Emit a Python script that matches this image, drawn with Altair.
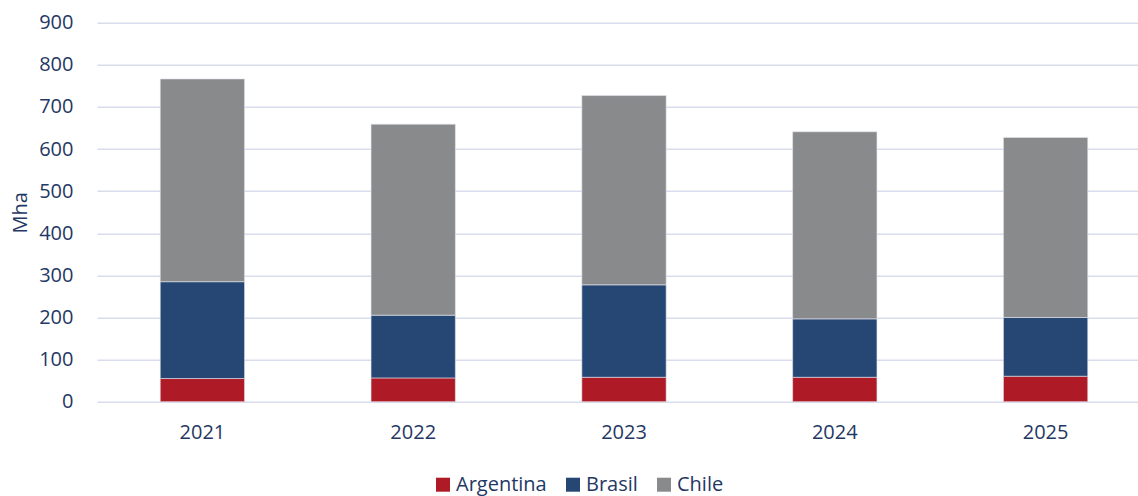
import altair as alt
import pandas as pd

years = ["2021", "2022", "2023", "2024", "2025"]
countries = ["Argentina", "Brasil", "Chile"]
argentina = [55, 56.5, 58, 58, 60.5]
brasil = [230, 149, 219.5, 138.7, 139.5]
chile = [481.4, 453.5, 449.5, 444.3, 427.5]
colors = ["#AE1A25", "#264674", "#898A8C"]

rows = []
for series, vals in zip(countries, [argentina, brasil, chile]):
    for y, v in zip(years, vals):
        rows.append({"Año": y, "País": series, "Mha": v, "ord": countries.index(series)})
df = pd.DataFrame(rows)

FONT = "Open Sans"
TXT = "#1F3864"
FS = 20

chart = alt.Chart(df).mark_bar(stroke="#e6e6ee", strokeWidth=0.6).encode(
    x=alt.X("Año:N", title=None,
            scale=alt.Scale(range=[0, 1054], paddingInner=0.6, paddingOuter=0.3),
            axis=alt.Axis(labelAngle=0, domain=False, ticks=False, labelPadding=21,
                          labelFontSize=FS, labelColor=TXT, labelFont=FONT)),
    y=alt.Y("Mha:Q", title="Mha", stack="zero",
            scale=alt.Scale(domain=[0, 900], nice=False),
            axis=alt.Axis(values=list(range(0, 901, 100)), domain=False, ticks=False,
                          labelPadding=24, labelFontSize=FS, labelColor=TXT, labelFont=FONT,
                          titleFontSize=FS, titleColor=TXT, titleFont=FONT,
                          titleFontWeight="normal", titlePadding=8,
                          gridColor="#D9DCEC", gridWidth=1.5)),
    color=alt.Color("País:N", scale=alt.Scale(domain=countries, range=colors),
                    legend=alt.Legend(title=None, orient="none", direction="horizontal",
                                      legendX=336, legendY=452,
                                      symbolType="square", symbolSize=196,
                                      symbolStrokeWidth=0, labelFontSize=FS,
                                      labelColor=TXT, labelFont=FONT,
                                      columnPadding=16, labelOffset=3)),
    order=alt.Order("ord:Q"),
).properties(
    width=1041, height=379,
    autosize=alt.AutoSizeParams(type="none"),
    padding={"left": 97, "top": 22.7, "right": 0, "bottom": 94.3},
).configure_view(stroke=None)

chart.save("out.html", embed_options={"renderer": "svg", "actions": False})
